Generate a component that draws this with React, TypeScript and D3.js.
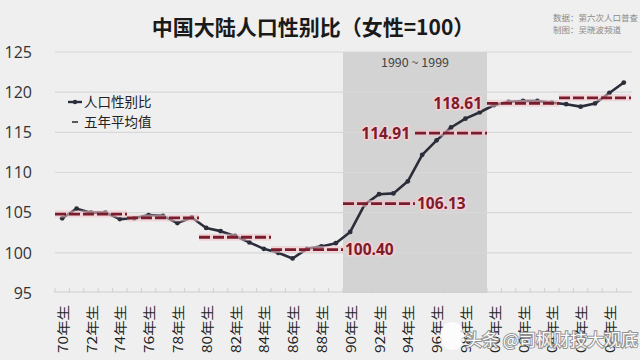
import React from "react";
import * as d3 from "d3";

const years = [1970,1971,1972,1973,1974,1975,1976,1977,1978,1979,1980,1981,1982,1983,1984,1985,1986,1987,1988,1989,1990,1991,1992,1993,1994,1995,1996,1997,1998,1999,2000,2001,2002,2003,2004,2005,2006,2007,2008,2009];
const sexRatio = [104.3,105.5,105.0,105.0,104.2,104.3,104.7,104.6,103.7,104.4,103.1,102.7,102.1,101.3,100.5,100.0,99.3,100.5,100.8,101.2,102.6,106.0,107.3,107.4,108.9,112.2,114.0,115.6,116.7,117.5,118.4,118.8,118.9,118.9,118.7,118.5,118.2,118.6,119.9,121.2];

const periodStart = [1970,1975,1980,1985,1990,1995,2000,2005];
const periodEnd = [1974,1979,1984,1989,1994,1999,2004,2009];
const periodAvg = [104.83,104.34,101.94,100.40,106.13,114.91,118.61,119.30];
const periodLabel = ["","","","100.40","106.13","114.91","118.61",""];
const labelSide = ["","","","right","right","left","left",""];

const yTicks = [95,100,105,110,115,120,125];
const xTickYears = [1970,1972,1974,1976,1978,1980,1982,1984,1986,1988,1990,1992,1994,1996,1998,2000,2002,2004,2006,2008];
const xTickLabels = ["70年生","72年生","74年生","76年生","78年生","80年生","82年生","84年生","86年生","88年生","90年生","92年生","94年生","96年生","98年生","00年生","02年生","04年生","06年生","08年生"];

const title = "中国大陆人口性别比（女性=100）";
const sourceLines = ["数据：第六次人口普查", "制图：吴晓波频道"];
const legendItems = ["人口性别比", "五年平均值"];
const bandLabel = "1990 ~ 1999";
const bandRange = [1990, 1999];
const watermark = "头条 @司枫财技大观底";

const W = 640, H = 360;
const FONT = "'Noto Sans CJK SC', 'Noto Sans', sans-serif";

export default function App() {
  const x = d3.scaleBand<number>().domain(years).range([55, 631]).paddingInner(0).paddingOuter(0);
  const bw = x.bandwidth();
  const cx = (yr: number) => (x(yr) as number) + bw / 2;
  const y = d3.scaleLinear().domain([95, 125]).range([293, 52]);

  const line = d3.line<number>().x((_, i) => cx(years[i])).y((d) => y(d)).curve(d3.curveLinear);
  const pathD = line(sexRatio) || "";

  const lineColor = "#2b2e3a";
  const red = "#7a1c2b";
  const pink = "#f3c3ca";

  return (
    <svg width={W} height={H} style={{ position: "fixed", left: 0, top: 0, background: "#efefef" }} fontFamily={FONT}>
      <rect x={0} y={0} width={W} height={H} fill="#efefef" />
      {/* shaded band */}
      <rect x={x(bandRange[0]) as number} y={y(125)} width={(x(bandRange[1]) as number) + bw - (x(bandRange[0]) as number)} height={y(95) - y(125)} fill="#d3d3d3" />
      {/* grid */}
      {yTicks.filter((t) => t > 95).map((t) => (
        <line key={t} x1={55} x2={632} y1={y(t)} y2={y(t)} stroke="#d8d8d8" strokeWidth={1.2} />
      ))}
      {/* x axis */}
      <line x1={54} x2={632} y1={y(95) - 1} y2={y(95) - 1} stroke="#cfcfcf" strokeWidth={1.2} />
      {years.map((yr) => (
        <line key={yr} x1={x(yr) as number} x2={x(yr) as number} y1={y(95) - 5} y2={y(95) - 1} stroke="#cfcfcf" strokeWidth={1} />
      ))}
      <text x={(x(bandRange[0]) as number + (x(bandRange[1]) as number) + bw) / 2} y={67} textAnchor="middle" fontSize={12.5} fill="#444">{bandLabel}</text>
      {/* y labels */}
      {yTicks.map((t) => (
        <text key={t} x={32} y={y(t)} dy="0.36em" textAnchor="end" fontSize={16} fill="#333" fontFamily="'Open Sans', 'Noto Sans', sans-serif">{t}</text>
      ))}
      {/* x labels */}
      {xTickYears.map((yr, i) => (
        <text key={yr} transform={`translate(${cx(yr)},305) rotate(-90)`} textAnchor="end" dominantBaseline="central" fontSize={13} textLength={48} lengthAdjust="spacingAndGlyphs" fill="#222">{xTickLabels[i]}</text>
      ))}
      {/* data line */}
      <path d={pathD} fill="none" stroke={lineColor} strokeWidth={2.6} strokeLinejoin="round" />
      {sexRatio.map((v, i) => (
        <circle key={i} cx={cx(years[i])} cy={y(v)} r={2.4} fill={lineColor} />
      ))}
      {/* five-year averages */}
      {periodAvg.map((v, i) => {
        const x1 = x(periodStart[i]) as number;
        const x2 = (x(periodEnd[i]) as number) + bw;
        const yy = y(v);
        return (
          <g key={i}>
            <line x1={x1} x2={x2} y1={yy} y2={yy} stroke={pink} strokeWidth={7} opacity={0.55} />
            <line x1={x1} x2={x2} y1={yy} y2={yy} stroke={red} strokeWidth={2.8} strokeDasharray="11,3" />
          </g>
        );
      })}
      {periodAvg.map((v, i) => {
        if (!periodLabel[i]) return null;
        const x1 = x(periodStart[i]) as number;
        const x2 = (x(periodEnd[i]) as number) + bw;
        const right = labelSide[i] === "right";
        return (
          <text key={"l" + i} x={right ? x2 + 2 : x1 - 5} y={y(v)} dy="0.36em" textAnchor={right ? "start" : "end"} fontSize={15.5} fontWeight="bold" fill={red} stroke="#f6d0d5" strokeWidth={3} paintOrder="stroke" fontFamily="'Open Sans', 'Noto Sans', sans-serif">{periodLabel[i]}</text>
        );
      })}
      {/* legend */}
      <line x1={68} x2={82} y1={102} y2={102} stroke={lineColor} strokeWidth={2.4} />
      <circle cx={75} cy={102} r={2.2} fill={lineColor} />
      <text x={84} y={102} dy="0.36em" fontSize={13.5} fill="#222">{legendItems[0]}</text>
      <line x1={72} x2={78} y1={122} y2={122} stroke="#333" strokeWidth={1.6} />
      <text x={84} y={122} dy="0.36em" fontSize={13.5} fill="#222">{legendItems[1]}</text>
      {/* title */}
      <text x={313} y={35} textAnchor="middle" fontSize={21} fontWeight="bold" fill="#1a1a1a">{title}</text>
      {sourceLines.map((s, i) => (
        <text key={i} x={553} y={21 + i * 12} fontSize={8.5} fill="#8a8a8a">{s}</text>
      ))}
      {/* watermark */}
      <ellipse cx={452} cy={336} rx={12} ry={14} fill="#ffffff" opacity={0.8} />
      <text x={465} y={340} dy="0.36em" fontSize={17} fill="#ffffff" stroke="#888" strokeWidth={2} paintOrder="stroke" opacity={0.9}>{watermark}</text>
    </svg>
  );
}
